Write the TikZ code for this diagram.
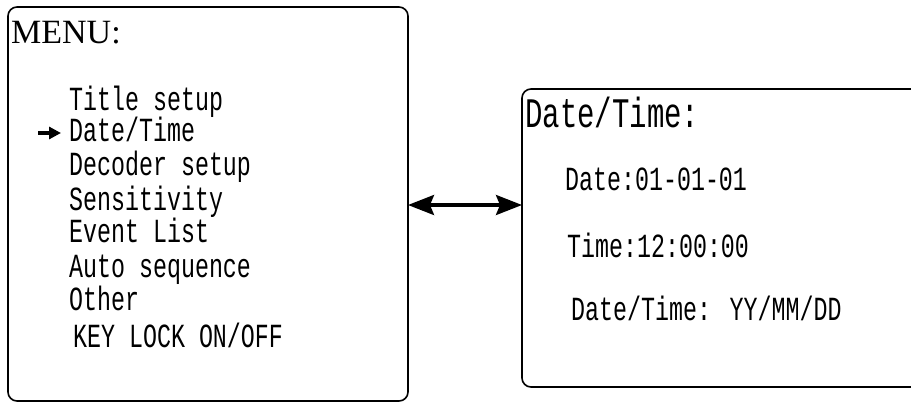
\documentclass[tikz,border=0pt]{standalone}
\usepackage{fontspec}
\newfontfamily\monofam{Liberation Mono}
\newfontfamily\seriffam{Liberation Serif}
\usetikzlibrary{arrows.meta}
\tikzset{
  screen/.style={draw, line width=1.6pt, rounded corners=9pt},
  item/.style={font=\monofam\fontsize{23.3}{28}\selectfont, inner sep=0pt, anchor=base west, yscale=1.45},
  bigitem/.style={font=\monofam\fontsize{29}{34}\selectfont, inner sep=0pt, anchor=base west, yscale=1.45},
  title/.style={font=\seriffam\fontsize{34}{38}\selectfont, inner sep=0pt, anchor=base west},
  link/.style={line width=3.2pt, arrows={Stealth[length=26pt,width=20pt,inset=4pt]-Stealth[length=26pt,width=20pt,inset=4pt]}},
  pointer/.style={line width=4pt, arrows={-Triangle[length=12pt,width=12pt]}}
}
\begin{document}
\begin{tikzpicture}[x=1pt,y=-1pt]
\useasboundingbox (0,0) rectangle (911,402);
% left screen
\draw[screen] (8,7) rectangle (408,401);
\coordinate (menuR) at (408,205);
\node[title] (menu) at (11,43) {MENU:};
\node[item] (i1) at (69,110) {Title setup};
\node[item] (i2) at (69,141) {Date/Time};
\node[item] (i3) at (69,175) {Decoder setup};
\node[item] (i4) at (69,210) {Sensitivity};
\node[item] (i5) at (69,242) {Event List};
\node[item] (i6) at (69,277) {Auto sequence};
\node[item] (i7) at (69,310) {Other};
\node[item] (i8) at (73,347) {KEY LOCK ON/OFF};
% pointer
\coordinate (ptrA) at (38,133);
\coordinate (ptrB) at (61,133);
\draw[pointer] (ptrA) -- (ptrB);
% right screen
\draw[screen] (522,89) rectangle (935,387);
\coordinate (dtL) at (522,205);
\node[bigitem] (dt) at (525,127) {Date/Time:};
\node[item] (d1) at (565,190) {Date:01-01-01};
\node[item] (d2) at (567,257) {Time:12:00:00};
\node[item] (d3) at (571,320) {Date/Time: YY/MM/DD};
% connector
\draw[link] (menuR) -- (dtL);
\end{tikzpicture}
\end{document}
